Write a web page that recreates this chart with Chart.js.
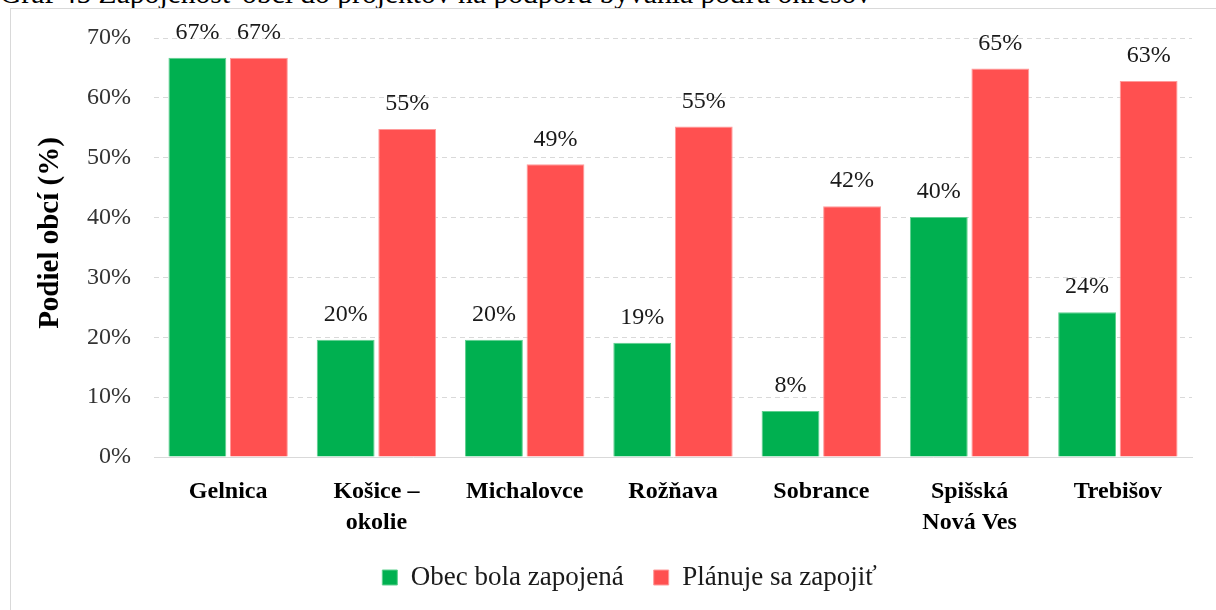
<!DOCTYPE html>
<html lang="sk">
<head>
<meta charset="utf-8">
<title>Zapojenosť obcí podľa okresov</title>
<script src="https://cdn.jsdelivr.net/npm/chart.js@4.4.1/dist/chart.umd.min.js"></script>
<style>
  html, body { margin: 0; padding: 0; background: #fff; overflow: hidden; }
  body { width: 1216px; height: 610px; position: relative; }
  #caption {
    position: absolute; left: 0; top: -21px; margin: 0;
    font: 29.6px/29px "Liberation Serif", "Times New Roman", serif; color: #000;
    white-space: nowrap;
  }
  #box {
    position: absolute; left: 10px; top: 8px; width: 1284px; height: 620px;
    border: 1px solid #d9d9d9; box-sizing: border-box; background: #fff;
  }
  #box canvas { display: block; }
</style>
</head>
<body>
<p id="caption">Graf 45 Zapojenosť obcí do projektov na podporu bývania podľa okresov</p>
<div id="box"><canvas id="myChart" width="1282" height="618"></canvas></div>
<script>
// okresy (dvojriadkové názvy ako polia)
const okresy = ['Gelnica', ['Košice –', 'okolie'], 'Michalovce', 'Rožňava', 'Sobrance', ['Spišská', 'Nová Ves'], 'Trebišov'];

// podiel obcí v %
const zapojena = [66.7, 19.6, 19.6, 19.1, 7.7, 40.1, 24.2];
const planuje = [66.7, 54.8, 48.9, 55.2, 41.9, 64.9, 62.8];

const nazvySerii = ['Obec bola zapojená', 'Plánuje sa zapojiť'];
const yTicks = [0, 10, 20, 30, 40, 50, 60, 70];

const serif = '"Liberation Serif", "Times New Roman", serif';

// hodnoty nad stĺpcami
const hodnotyNadStlpcami = {
  id: 'hodnotyNadStlpcami',
  afterDatasetsDraw(chart) {
    const ctx = chart.ctx;
    ctx.save();
    ctx.font = '24px ' + serif;
    ctx.fillStyle = '#1a1a1a';
    ctx.textAlign = 'center';
    ctx.textBaseline = 'middle';
    chart.data.datasets.forEach((ds, i) => {
      chart.getDatasetMeta(i).data.forEach((bar, j) => {
        ctx.fillText(Math.round(ds.data[j]) + '%', bar.x, bar.y - 25);
      });
    });
    ctx.restore();
  }
};

document.addEventListener('DOMContentLoaded', () => {
  const ctx = document.getElementById('myChart').getContext('2d');

  new Chart(ctx, {
    type: 'bar',
    data: {
      labels: okresy,
      datasets: [{
        label: nazvySerii[0],
        data: zapojena,
        backgroundColor: '#00b050',
        borderColor: '#5fd08f',
        borderWidth: 1
      }, {
        label: nazvySerii[1],
        data: planuje,
        backgroundColor: '#ff5050',
        borderColor: '#ff9a9a',
        borderWidth: 1
      }]
    },
    options: {
      responsive: false,
      animation: false,
      events: [],
      categoryPercentage: 0.83,
      barPercentage: 0.94,
      // ľavý okraj väčší, aby legenda bola posunutá doprava
      layout: { padding: { top: 29, right: 101, left: 56, bottom: 26 } },
      scales: {
        x: {
          grid: { display: false, drawTicks: false },
          border: { display: true, color: '#d9d9d9', width: 1 },
          ticks: {
            padding: 19,
            color: '#000',
            font: { family: serif, size: 24, weight: 'bold', lineHeight: 1.3 }
          },
          afterFit(scale) { scale.height = 77; }
        },
        y: {
          min: 0,
          max: 70,
          afterBuildTicks(scale) { scale.ticks = yTicks.map(v => ({ value: v })); },
          grid: { color: '#d9d9d9', lineWidth: 1, drawTicks: false },
          border: { display: false, dash: [5, 4] },
          ticks: {
            padding: 23,
            color: '#333',
            font: { family: serif, size: 24, lineHeight: 0.5 },
            callback: v => v + '%'
          },
          title: {
            display: true,
            text: '    Podiel obcí (%)',
            color: '#000',
            font: { family: serif, size: 29, weight: 'bold' },
            padding: { top: -34, bottom: 4 }
          },
          afterFit(scale) { scale.width = 87; }
        }
      },
      plugins: {
        legend: {
          position: 'bottom',
          labels: {
            boxWidth: 15,
            boxHeight: 15,
            padding: 30,
            color: '#1a1a1a',
            font: { family: serif, size: 27 }
          }
        },
        tooltip: { enabled: false }
      }
    },
    plugins: [hodnotyNadStlpcami]
  });
});
</script>
</body>
</html>
